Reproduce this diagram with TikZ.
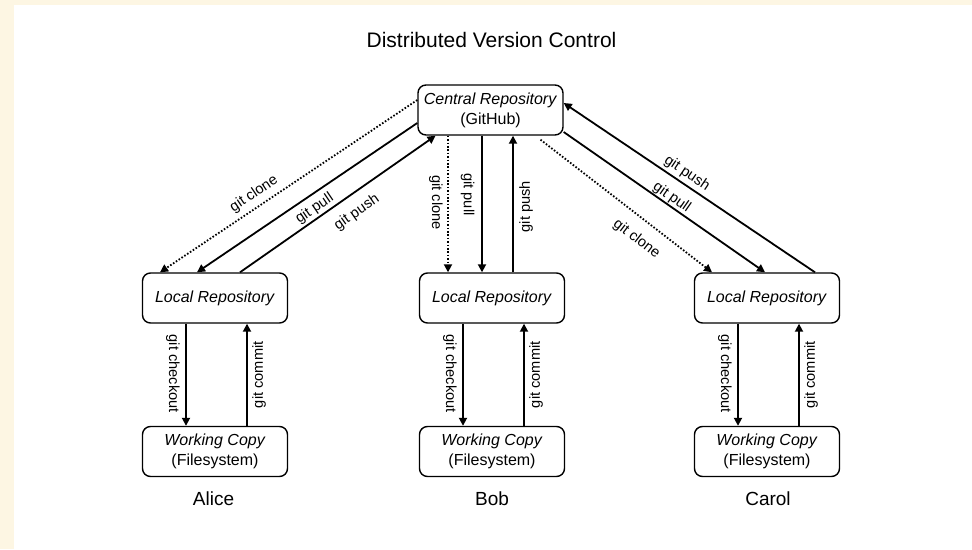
\documentclass[tikz,border=0pt]{standalone}
\usepackage{fontspec}
\setmainfont{Liberation Sans}
\usetikzlibrary{arrows.meta,calc}
\definecolor{paper}{HTML}{FDF6E3}

\begin{document}
\begin{tikzpicture}[x=1pt,y=-1pt,
  box/.style={draw, line width=1.4pt, rounded corners=8pt, minimum width=145pt,
    minimum height=50pt, inner sep=0pt, align=center,
    font=\fontsize{16}{20}\selectfont},
  flow/.style={line width=1.8pt, -{Triangle[length=8pt,width=8pt]}},
  clonef/.style={flow, dash pattern=on 1.6pt off 1.8pt},
  cmd/.style={font=\fontsize{14.6}{16}\selectfont, inner xsep=0pt, inner ysep=#1},
  cmd/.default=4pt,
  who/.style={font=\fontsize{19}{22}\selectfont},
]
% page and frame
\fill[paper] (0,0) rectangle (972,549);
\fill[white] (14,5) rectangle (972,549);
\useasboundingbox (0,0) rectangle (972,549);

\node[font=\fontsize{21}{24}\selectfont] (title) at (491.5,39.5) {Distributed Version Control};

% repositories
\node[box] (central) at (490.5,110) {\textit{Central Repository}\\(GitHub)};

\node[box] (aliceL) at (215,298) {\textit{Local Repository}};
\node[box] (bobL)   at (492,298) {\textit{Local Repository}};
\node[box] (carolL) at (767,298) {\textit{Local Repository}};

\node[box] (aliceW) at (215,451.5) {\textit{Working Copy}\\(Filesystem)};
\node[box] (bobW)   at (492,451.5) {\textit{Working Copy}\\(Filesystem)};
\node[box] (carolW) at (767,451.5) {\textit{Working Copy}\\(Filesystem)};

\node[who] (alice) at (213.5,499) {Alice};
\node[who] (bob)   at (492,499)   {Bob};
\node[who] (carol) at (768,499)   {Carol};

% Alice <-> central
\draw[clonef] ([yshift=10pt]central.west) -- node[cmd=5pt, sloped, above, pos=0.607] {git clone} ([xshift=-55pt]aliceL.north);
\draw[flow] ([yshift=-13pt]central.west) -- node[cmd=5.8pt, sloped, below, pos=0.5] {git pull} ([xshift=-18pt]aliceL.north);
\draw[flow] ([xshift=25pt]aliceL.north) -- node[cmd=10.2pt, sloped, below, pos=0.545] {git push} ([xshift=-55pt]central.south);

% Bob <-> central
\draw[clonef] ([xshift=-44pt]bobL.north |- central.south) -- node[cmd=4.3pt, rotate=-90, anchor=north, pos=0.49] {git clone} ([xshift=-44pt]bobL.north);
\draw[flow] ([xshift=-10pt]bobL.north |- central.south) -- node[cmd=6.7pt, rotate=-90, anchor=north, pos=0.43] {git pull} ([xshift=-10pt]bobL.north);
\draw[flow] ([xshift=21pt]bobL.north) -- node[cmd=5.3pt, rotate=90, anchor=north, pos=0.48] {git push} ([xshift=21pt]bobL.north |- central.south);

% Carol <-> central
\draw[flow] ([xshift=48pt]carolL.north) -- node[cmd=2.8pt, sloped, above, pos=0.533] {git push} ([yshift=7pt]central.east);
\draw[flow] ([yshift=-22pt]central.east) -- node[cmd=0.3pt, sloped, above, pos=0.514] {git pull} ([xshift=-2pt]carolL.north);
\draw[clonef] ([xshift=50pt,yshift=-4pt]central.south) -- node[cmd=12pt, sloped, below, pos=0.63] {git clone} ([xshift=-55pt]carolL.north);

% local <-> working copies
\foreach \p in {alice,bob,carol}{
  \draw[flow] ([xshift=-29pt]\p L.south) -- node[cmd=5.3pt, rotate=-90, anchor=north, pos=0.49] {git checkout} ([xshift=-29pt]\p W.north);
  \draw[flow] ([xshift=32pt]\p W.north) -- node[cmd=4.3pt, rotate=90, anchor=north, pos=0.5] {git commit} ([xshift=32pt]\p L.south);
}
\end{tikzpicture}
\end{document}
